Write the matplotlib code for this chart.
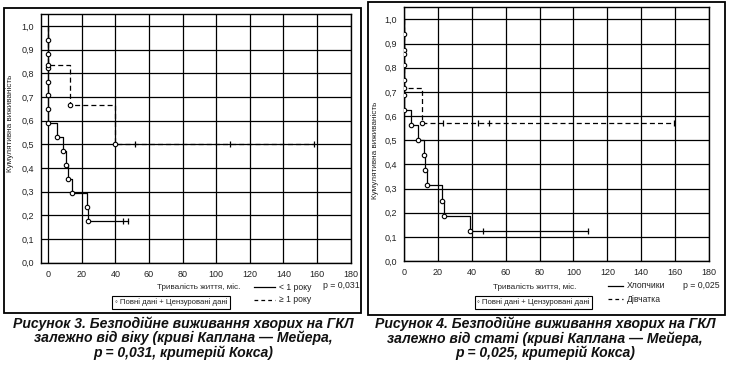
import matplotlib
matplotlib.use("Agg")
import matplotlib.pyplot as plt
from matplotlib.patches import Rectangle
from matplotlib.lines import Line2D
from matplotlib.ticker import MultipleLocator, FuncFormatter

# --- data ---
# Figure 3: by age
age_lt1_times = [0, 0, 0, 0, 0, 0, 0, 5, 9, 10.7, 12, 14, 23, 23.5]
age_lt1_surv = [0.941, 0.882, 0.824, 0.765, 0.706, 0.647, 0.588, 0.529,
                0.471, 0.412, 0.353, 0.294, 0.235, 0.176]
age_lt1_cens = [44.5, 47.5]

age_ge1_times = [0, 13, 40]
age_ge1_surv = [0.833, 0.667, 0.5]
age_ge1_cens = [51.5, 108, 158]

# Figure 4: by sex
boys_times = [0, 0, 0, 0, 0, 0, 4, 8.5, 11.6, 12.6, 13.4, 22.4, 23.4, 39]
boys_surv = [0.9375, 0.875, 0.8125, 0.75, 0.6875, 0.625, 0.5625, 0.5,
             0.4375, 0.375, 0.3125, 0.25, 0.1875, 0.125]
boys_cens = [46.8, 108.3]

girls_times = [0, 0, 10.8]
girls_surv = [0.857, 0.714, 0.571]
girls_cens = [23.2, 43.8, 50.3, 159.4]

W, H = 729, 367
FONT = ['Liberation Sans', 'DejaVu Sans']
CAPFONT = ['Liberation Sans', 'DejaVu Sans']
TXT = '#222222'


def fx(px):
    return px / W


def fy(py):
    return 1 - py / H


def km(ax, times, surv, cens, ls):
    xs = [0] + list(times) + [max(cens)]
    ys = [1.0] + list(surv) + [surv[-1]]
    ax.step(xs, ys, where='post', color='black', lw=0.9, ls=ls,
            dashes=(4, 2.5) if ls == '--' else (None, None), zorder=3)
    ax.plot(times, surv, 'o', ms=3.2, mfc='white', mec='black', mew=0.8,
            zorder=4)
    ax.plot(cens, [surv[-1]] * len(cens), '|', ms=5, mec='black', mew=0.9,
            zorder=4)


def setup(ax, xmin):
    ax.set_xlim(xmin, 180)
    ax.set_ylim(0, 1.05)
    ax.xaxis.set_major_locator(MultipleLocator(20))
    ax.yaxis.set_major_locator(MultipleLocator(0.1))
    ax.yaxis.set_major_formatter(FuncFormatter(lambda v, p: f"{v:.1f}".replace('.', ',')))
    ax.grid(True, color='black', lw=0.9)
    ax.tick_params(length=0, labelsize=6.5, colors=TXT, pad=5)
    for lab in ax.get_xticklabels() + ax.get_yticklabels():
        lab.set_family(FONT)
    for s in ax.spines.values():
        s.set_linewidth(1.0)
    ax.set_axisbelow(True)


fig = plt.figure(figsize=(W / 100, H / 100), dpi=100)

# frames
fig.add_artist(Rectangle((fx(4), fy(313)), fx(357), 305 / H,
                         transform=fig.transFigure, fill=False, lw=1.3, ec='black'))
fig.add_artist(Rectangle((fx(368), fy(315)), fx(357), 313 / H,
                         transform=fig.transFigure, fill=False, lw=1.3, ec='black'))

ax1 = fig.add_axes([fx(40.7), fy(262.7), fx(310), 248.7 / H])
setup(ax1, -4.4)
km(ax1, age_lt1_times, age_lt1_surv, age_lt1_cens, '-')
km(ax1, age_ge1_times, age_ge1_surv, age_ge1_cens, '--')

ax2 = fig.add_axes([fx(404), fy(261), fx(305), 253.7 / H])
setup(ax2, 0)
km(ax2, boys_times, boys_surv, boys_cens, '-')
km(ax2, girls_times, girls_surv, girls_cens, '--')

# y labels
fig.text(fx(10), fy(123.5), "Кумулятивна виживаність", rotation=90,
         ha='center', va='center', fontsize=5.9, family=FONT, color=TXT)
fig.text(fx(375), fy(150), "Кумулятивна виживаність", rotation=90,
         ha='center', va='center', fontsize=5.9, family=FONT, color=TXT)

# x labels
fig.text(fx(199), fy(287), "Тривалість життя, міс.", ha='center', va='center',
         fontsize=5.9, family=FONT, color=TXT)
fig.text(fx(535), fy(287), "Тривалість життя, міс.", ha='center', va='center',
         fontsize=5.9, family=FONT, color=TXT)


# legends for groups
def legend_row(x0, x1, y, ls, label):
    fig.add_artist(Line2D([fx(x0), fx(x1)], [fy(y), fy(y)], transform=fig.transFigure,
                          color='black', lw=0.9, ls=ls, dashes=(3, 2.5) if ls == '--' else (None, None)))
    fig.text(fx(x1 + 4), fy(y), label, ha='left', va='center', fontsize=6.2,
             family=FONT, color=TXT)


legend_row(254, 275, 287, '-', "< 1 року")
legend_row(254, 275, 300, '--', "≥ 1 року")
legend_row(608, 623, 286, '-', "Хлопчики")
legend_row(608, 623, 299, '--', "Дівчатка")

fig.text(fx(341), fy(285), "p = 0,031", ha='center', va='center', fontsize=6.3,
         family=FONT, color=TXT)
fig.text(fx(701), fy(286), "p = 0,025", ha='center', va='center', fontsize=6.3,
         family=FONT, color=TXT)

box = dict(boxstyle='square,pad=0.3', fc='white', ec='black', lw=0.8)
fig.text(fx(171), fy(302.5), "◦ Повні дані + Цензуровані дані", ha='center', va='center',
         fontsize=5.6, family=FONT, color=TXT, bbox=box)
fig.text(fx(533.5), fy(302.5), "◦ Повні дані + Цензуровані дані", ha='center', va='center',
         fontsize=5.6, family=FONT, color=TXT, bbox=box)

# captions
cap1 = ["Рисунок 3. Безподійне виживання хворих на ГКЛ",
        "залежно від віку (криві Каплана — Мейера,",
        "p = 0,031, критерій Кокса)"]
cap2 = ["Рисунок 4. Безподійне виживання хворих на ГКЛ",
        "залежно від статі (криві Каплана — Мейера,",
        "p = 0,025, критерій Кокса)"]
for i, (a, b) in enumerate(zip(cap1, cap2)):
    y = 323.5 + i * 14.5
    fig.text(fx(183), fy(y), a, ha='center', va='center', fontsize=10.1,
             fontweight='bold', style='italic', family=CAPFONT, color='#111111')
    fig.text(fx(545), fy(y + 0.5), b, ha='center', va='center', fontsize=10.1,
             fontweight='bold', style='italic', family=CAPFONT, color='#111111')

fig.savefig("out.png", dpi=100)
